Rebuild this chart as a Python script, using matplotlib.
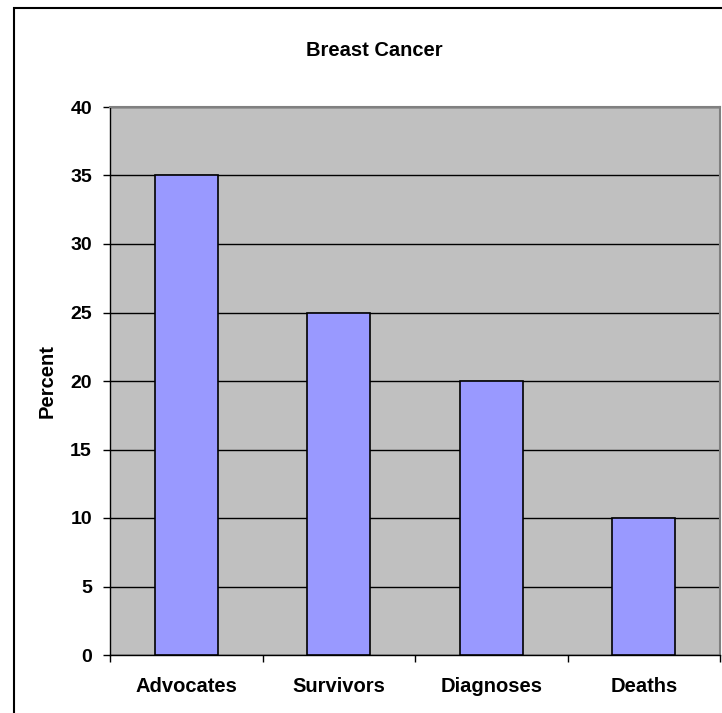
import matplotlib
matplotlib.use("Agg")
from matplotlib import pyplot as plt
from matplotlib.patches import Rectangle
import numpy as np

categories = ["Advocates", "Survivors", "Diagnoses", "Deaths"]
percent = [35, 25, 20, 10]
yticks = [0, 5, 10, 15, 20, 25, 30, 35, 40]

plt.rcParams['font.family'] = ['Liberation Sans', 'DejaVu Sans']

W, H = 722, 713
fig = plt.figure(figsize=(W / 100, H / 100), dpi=100)

# outer chart border (runs off the right and bottom edges)
fig.patches.append(Rectangle((14 / W, -0.1), 1.2, 1.1 - 8 / H, transform=fig.transFigure,
                             fill=False, edgecolor='black', linewidth=1.5, zorder=0))

ax = fig.add_axes([110 / W, (H - 655) / H, 610 / W, 548 / H])
ax.set_facecolor('#C0C0C0')

x = np.arange(len(categories)) + 0.5
ax.bar(x, percent, width=0.41, color='#9999FF', edgecolor='black', linewidth=1.2, zorder=3)

ax.set_xlim(0, len(categories))
ax.set_ylim(0, 40)
ax.set_yticks(yticks)
ax.set_yticklabels([str(v) for v in yticks], fontsize=14, fontweight='bold')
ax.yaxis.grid(True, color='black', linewidth=1.0, zorder=1)
ax.set_axisbelow(True)

ax.set_xticks(np.arange(len(categories) + 1))
ax.set_xticklabels([])
ax.set_xticks(x, minor=True)
ax.set_xticklabels(categories, minor=True, fontsize=14.5, fontweight='bold')
ax.tick_params(axis='x', which='minor', length=0, pad=16)
ax.tick_params(axis='x', which='major', length=5, width=1, direction='out')
ax.tick_params(axis='y', length=5, width=1, direction='out', pad=8)

for s in ['top', 'right']:
    ax.spines[s].set_color('#808080')
    ax.spines[s].set_linewidth(1.5)
for s in ['left', 'bottom']:
    ax.spines[s].set_color('black')
    ax.spines[s].set_linewidth(1.0)

ax.set_ylabel("Percent", fontsize=14.5, fontweight='bold', labelpad=10)
fig.text(374 / W, 1 - 50 / H, "Breast Cancer", ha='center', va='center',
         fontsize=14.5, fontweight='bold')

fig.savefig("out.png", dpi=100)
